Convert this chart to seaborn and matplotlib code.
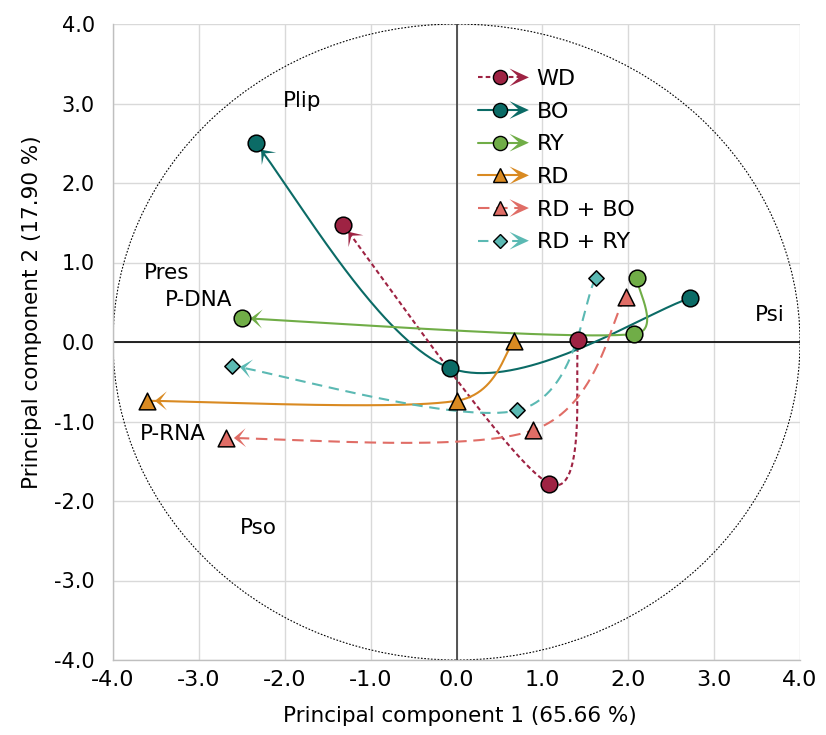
import numpy as np
import pandas as pd
import matplotlib
matplotlib.use("Agg")
import matplotlib.pyplot as plt
import seaborn as sns
from matplotlib.lines import Line2D
from matplotlib.patches import Polygon, Ellipse
from matplotlib.legend_handler import HandlerBase

# ---------------- data ----------------
groups = ["WD", "BO", "RY", "RD", "RD + BO", "RD + RY"]
wd_x = [1.42, 1.08, -1.32]
wd_y = [0.03, -1.78, 1.47]
bo_x = [2.72, -0.07, -2.34]
bo_y = [0.55, -0.33, 2.50]
ry_x = [2.10, 2.07, -2.50]
ry_y = [0.80, 0.10, 0.30]
rd_x = [0.67, 0.00, -3.60]
rd_y = [0.01, -0.74, -0.74]
rdbo_x = [1.97, 0.89, -2.68]
rdbo_y = [0.57, -1.11, -1.21]
rdry_x = [1.62, 0.71, -2.61]
rdry_y = [0.80, -0.86, -0.30]

var_labels = ["Plip", "Pres", "P-DNA", "Psi", "P-RNA", "Pso"]
var_x = [-1.80, -3.38, -3.00, 3.65, -3.30, -2.31]
var_y = [3.03, 0.87, 0.53, 0.34, -1.16, -2.34]

ticks = [-4, -3, -2, -1, 0, 1, 2, 3, 4]
tick_labels = ["-4.0", "-3.0", "-2.0", "-1.0", "0.0", "1.0", "2.0", "3.0", "4.0"]
x_title = "Principal component 1 (65.66 %)"
y_title = "Principal component 2 (17.90 %)"

series_x = [wd_x, bo_x, ry_x, rd_x, rdbo_x, rdry_x]
series_y = [wd_y, bo_y, ry_y, rd_y, rdbo_y, rdry_y]

# ---------------- styles ----------------
colors = ["#9E2343", "#0B6B66", "#70AD47", "#D98A22", "#E06D66", "#5BB9B3"]
markers = ["o", "o", "o", "^", "^", "D"]
msizes = [12, 12, 12, 12, 12, 7.8]
linestyles = [(0, (2.2, 1.5)), "-", "-", "-", (0, (5.5, 3.2)), (0, (5.0, 3.2))]
lw = 1.5

sns.set_style("white")
plt.rcParams["font.family"] = ["DejaVu Sans"]
plt.rcParams["axes.unicode_minus"] = False
plt.rcParams["text.color"] = "black"
plt.rcParams["axes.labelcolor"] = "black"

fig = plt.figure(figsize=(8.26, 7.35), dpi=100)
ax = fig.add_axes([113 / 826, 75 / 735, 687 / 826, 636 / 735])
ax.set_xlim(-4, 4)
ax.set_ylim(-4, 4)

# grid & axes
ax.set_xticks(ticks)
ax.set_yticks(ticks)
ax.set_xticklabels(tick_labels, fontsize=16)
ax.set_yticklabels(tick_labels, fontsize=15)
ax.grid(True, color="#D9D9D9", lw=1.0, zorder=0)
ax.set_axisbelow(True)
for s in ["top", "right"]:
    ax.spines[s].set_visible(False)
for s in ["left", "bottom"]:
    ax.spines[s].set_color("#BFBFBF")
    ax.spines[s].set_linewidth(1.0)
ax.tick_params(axis="both", direction="out", length=4.5, width=1.0, color="#BFBFBF",
               labelcolor="black")
ax.tick_params(axis="y", pad=8.5)
ax.tick_params(axis="x", pad=3)
ax.axhline(0, color="black", lw=1.2, zorder=1)
ax.axvline(0, color="#3A3A3A", lw=1.2, zorder=1)
ax.add_patch(Ellipse((0, 0), 8, 8, fill=False, ec="black", lw=0.8,
                     ls=(0, (1.5, 1.5)), zorder=1))


# ---------------- Excel-like smoothed curve ----------------
def excel_smooth(xs, ys, n=80):
    P = ax.transData.transform(np.column_stack([xs, ys]))
    pts = [P[0]] + list(P) + [P[-1]]
    out = []
    for i in range(len(P) - 1):
        p0, p1, p2, p3 = pts[i], pts[i + 1], pts[i + 2], pts[i + 3]
        d12 = np.linalg.norm(p2 - p1)
        v1 = p2 - p0
        v2 = p3 - p1
        m1 = min(np.linalg.norm(v1) / 6, d12 / 2)
        m2 = min(np.linalg.norm(v2) / 6, d12 / 2)
        c1 = p1 + v1 / np.linalg.norm(v1) * m1
        c2 = p2 - v2 / np.linalg.norm(v2) * m2
        t = np.linspace(0, 1, n)[:, None]
        seg = ((1 - t) ** 3) * p1 + 3 * ((1 - t) ** 2) * t * c1 + 3 * (1 - t) * t ** 2 * c2 + t ** 3 * p2
        out.append(seg if i == 0 else seg[1:])
    curve = np.vstack(out)
    return ax.transData.inverted().transform(curve), P


def arrow_poly(P, offset, L=12.0, W=9.5, N=5.0):
    end, prev = P[-1], P[-2]
    u = (end - prev) / np.linalg.norm(end - prev)
    nrm = np.array([-u[1], u[0]])
    tip = end - u * offset
    pts = np.array([tip, tip - u * L + nrm * W, tip - u * N, tip - u * L - nrm * W])
    return ax.transData.inverted().transform(pts)


offsets = [8.5, 8.5, 8.5, 7.5, 7.5, 7.5]
for i, g in enumerate(groups):
    curve, P = excel_smooth(series_x[i], series_y[i])
    dfc = pd.DataFrame({"x": curve[:, 0], "y": curve[:, 1]})
    sns.lineplot(data=dfc, x="x", y="y", sort=False, estimator=None, ax=ax,
                 color=colors[i], lw=lw, linestyle=linestyles[i], zorder=2)
    ax.add_patch(Polygon(arrow_poly(P, offsets[i]), closed=True, fc=colors[i],
                         ec="none", zorder=3))

for i, g in enumerate(groups):
    dfp = pd.DataFrame({"x": series_x[i], "y": series_y[i]})
    sns.scatterplot(data=dfp, x="x", y="y", ax=ax, marker=markers[i],
                    s=msizes[i] ** 2, color=colors[i], edgecolor="black",
                    linewidth=1.1, zorder=4)

ax.set_xlabel(x_title, fontsize=15.5, color="black")
ax.set_ylabel(y_title, fontsize=15.5, color="black")
ax.xaxis.set_label_coords(0.505, -0.073)
ax.yaxis.set_label_coords(-0.104, 0.547)

for lab, x, y in zip(var_labels, var_x, var_y):
    ax.text(x, y, lab, fontsize=15.5, ha="center", va="center", color="black", zorder=5)


# ---------------- legend ----------------
class TrajHandler(HandlerBase):
    def __init__(self, idx):
        super().__init__()
        self.idx = idx

    def create_artists(self, legend, orig_handle, xdescent, ydescent, width,
                       height, fontsize, trans):
        i = self.idx
        y = height / 2 - ydescent
        x0 = -xdescent
        tip = x0 + width
        L, W, N = 14.0, 6.4, 7.0
        line = Line2D([x0, tip - N], [y, y], color=colors[i], lw=lw,
                      linestyle=linestyles[i])
        poly = Polygon([[tip, y], [tip - L, y + W], [tip - N, y], [tip - L, y - W]],
                       closed=True, fc=colors[i], ec="none")
        mk = Line2D([x0 + 0.44 * width], [y], marker=markers[i], ms=msizes[i] * 0.85,
                    mfc=colors[i], mec="black", mew=1.0, ls="none")
        for a in (line, poly, mk):
            a.set_transform(trans)
        return [line, poly, mk]


handles = [Line2D([], [], color=c) for c in colors]
hmap = {h: TrajHandler(i) for i, h in enumerate(handles)}
leg = ax.legend(handles, groups, handler_map=hmap, loc="upper left",
                bbox_to_anchor=(0.531, 0.929), frameon=False, fontsize=16,
                handlelength=2.3, handletextpad=0.35, labelspacing=0.57,
                borderaxespad=0, borderpad=0)
leg.set_zorder(6)
for t in leg.get_texts():
    t.set_color("black")

fig.savefig("out.png", dpi=100)
